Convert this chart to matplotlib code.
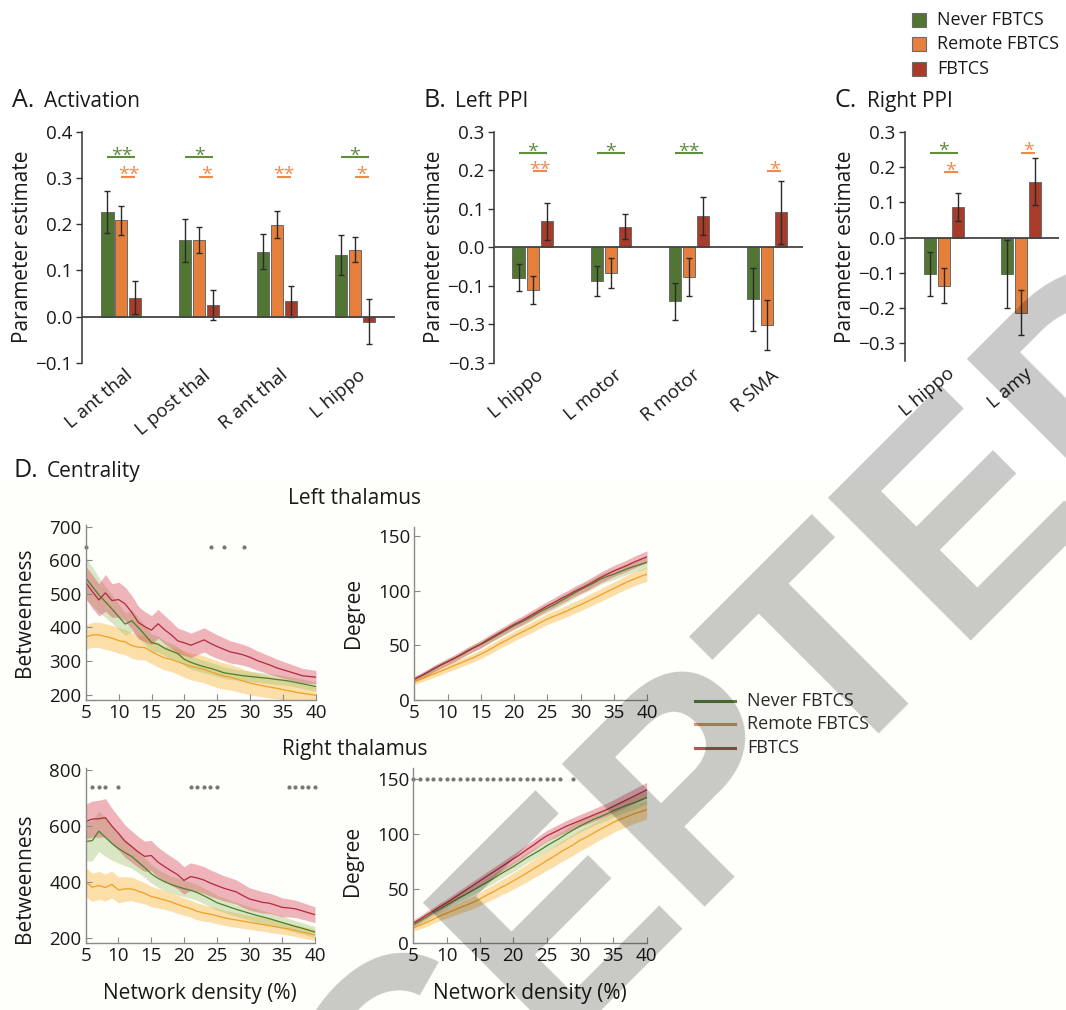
import numpy as np
import matplotlib
matplotlib.use("Agg")
import matplotlib.pyplot as plt
import matplotlib.transforms as mtransforms
from matplotlib.patches import Rectangle
from matplotlib.lines import Line2D

plt.rcParams['font.family'] = ['Open Sans', 'DejaVu Sans']

# ---------------- bar panels (A, B, C) ----------------
groups = ['never', 'remote', 'fbtcs']
group_names = ['Never FBTCS', 'Remote FBTCS', 'FBTCS']

regions_a = ['L ant thal', 'L post thal', 'R ant thal', 'L hippo']
act_never = [0.226, 0.165, 0.140, 0.133]
act_never_err = [0.045, 0.047, 0.038, 0.044]
act_remote = [0.208, 0.166, 0.199, 0.145]
act_remote_err = [0.031, 0.028, 0.030, 0.026]
act_fbtcs = [0.041, 0.025, 0.033, -0.011]
act_fbtcs_err = [0.036, 0.032, 0.033, 0.048]

regions_b = ['L hippo', 'L motor', 'R motor', 'R SMA']
lppi_never = [-0.079, -0.087, -0.141, -0.135]
lppi_never_err = [0.035, 0.039, 0.048, 0.082]
lppi_remote = [-0.112, -0.067, -0.077, -0.202]
lppi_remote_err = [0.036, 0.038, 0.049, 0.064]
lppi_fbtcs = [0.067, 0.053, 0.081, 0.091]
lppi_fbtcs_err = [0.049, 0.032, 0.050, 0.082]

regions_c = ['L hippo', 'L amy']
rppi_never = [-0.104, -0.104]
rppi_never_err = [0.063, 0.097]
rppi_remote = [-0.136, -0.213]
rppi_remote_err = [0.051, 0.064]
rppi_fbtcs = [0.087, 0.158]
rppi_fbtcs_err = [0.040, 0.067]

# significance markers: region index, compared group (vs FBTCS), label, height
sig_a_idx = [0, 0, 1, 1, 2, 3, 3]
sig_a_grp = ['never', 'remote', 'never', 'remote', 'remote', 'never', 'remote']
sig_a_lab = ['**', '**', '*', '*', '**', '*', '*']
sig_a_y = [0.345, 0.303, 0.345, 0.303, 0.303, 0.345, 0.303]

sig_b_idx = [0, 0, 1, 2, 3]
sig_b_grp = ['never', 'remote', 'never', 'never', 'remote']
sig_b_lab = ['*', '**', '*', '**', '*']
sig_b_y = [0.245, 0.197, 0.245, 0.245, 0.197]

sig_c_idx = [0, 0, 1]
sig_c_grp = ['never', 'remote', 'remote']
sig_c_lab = ['*', '*', '*']
sig_c_y = [0.241, 0.186, 0.240]

# ---------------- centrality panels (D) ----------------
density = np.arange(5, 41)

lb_never = [548, 522, 497, 476, 455, 432,
            410, 420, 400, 378, 355, 350,
            338, 330, 322, 305, 296, 289,
            283, 278, 272, 265, 262, 259,
            256, 254, 252, 250, 248, 245,
            243, 240, 236, 232, 228, 224]
lb_never_sem = [62, 58, 52, 46, 42, 38,
                34, 32, 30, 28, 26, 24,
                23, 22, 21, 20, 20, 19,
                19, 18, 18, 17, 17, 16,
                16, 16, 15, 15, 15, 15,
                14, 14, 14, 14, 14, 14]
lb_remote = [371, 378, 378, 373, 368, 361,
             357, 346, 341, 340, 328, 318,
             309, 305, 298, 291, 284, 280,
             275, 268, 261, 255, 252, 246,
             240, 234, 230, 226, 222, 219,
             215, 211, 207, 204, 201, 198]
lb_remote_sem = [36, 37, 38, 38, 38, 38,
                 38, 38, 37, 37, 36, 36,
                 36, 36, 38, 40, 40, 40,
                 40, 40, 40, 39, 38, 37,
                 36, 35, 34, 33, 32, 31,
                 30, 29, 28, 27, 26, 25]
lb_fbtcs = [534, 507, 482, 503, 480, 483,
            470, 445, 415, 402, 392, 411,
            393, 378, 360, 354, 347, 355,
            363, 352, 343, 335, 327, 323,
            318, 311, 302, 295, 288, 280,
            274, 268, 262, 256, 254, 252]
lb_fbtcs_sem = [48, 50, 48, 55, 50, 52,
                50, 50, 48, 45, 43, 43,
                42, 40, 38, 37, 36, 36,
                36, 36, 35, 34, 33, 32,
                31, 30, 29, 28, 27, 26,
                25, 24, 23, 22, 21, 20]
lb_sig = [5, 24, 26, 29]

ld_never = [19, 22, 25, 28.5, 32, 35,
            38, 41, 44.5, 48, 51, 54,
            57.5, 61, 64.5, 68, 71, 74,
            77.5, 81, 84, 87, 90.5, 94,
            97.5, 101, 104, 107, 110.5, 113,
            115, 117.5, 120, 122, 124, 126]
ld_never_sem = [2.4, 2.5, 2.6, 2.7, 2.8, 2.9,
                3.0, 3.0, 3.1, 3.2, 3.3, 3.4,
                3.4, 3.5, 3.6, 3.7, 3.8, 3.9,
                3.9, 4.0, 4.1, 4.2, 4.3, 4.4,
                4.4, 4.5, 4.6, 4.7, 4.8, 4.9,
                4.9, 5.0, 5.1, 5.2, 5.3, 5.4]
ld_remote = [16.5, 19, 21.5, 24, 26.5, 29,
             31.5, 34, 36.5, 39, 42, 45,
             48.5, 52, 55, 58.5, 61.5, 64.5,
             67.5, 71, 74, 76.5, 79, 81.5,
             84.5, 87, 90, 93, 96, 99,
             102, 105, 108, 110.5, 113, 115]
ld_remote_sem = [2.5, 2.7, 2.9, 3.1, 3.3, 3.5,
                 3.6, 3.7, 3.8, 3.9, 4.0, 4.1,
                 4.2, 4.3, 4.4, 4.5, 4.6, 4.7,
                 4.8, 4.9, 5.0, 5.1, 5.2, 5.3,
                 5.4, 5.5, 5.6, 5.7, 5.8, 5.9,
                 6.0, 6.1, 6.2, 6.3, 6.4, 6.5]
ld_fbtcs = [19, 22, 25.5, 29, 32, 35,
            38, 41.5, 45, 48, 51, 55,
            58.5, 62, 65.5, 69, 72, 75.5,
            79, 82.5, 86, 89, 92.5, 95.5,
            99, 102, 105, 108.5, 112, 115,
            118, 120.5, 123, 126, 128.5, 131]
ld_fbtcs_sem = [2.5, 2.6, 2.7, 2.8, 2.9, 3.0,
                3.0, 3.1, 3.2, 3.3, 3.4, 3.5,
                3.5, 3.6, 3.7, 3.8, 3.9, 4.0,
                4.0, 4.1, 4.2, 4.3, 4.4, 4.5,
                4.5, 4.6, 4.7, 4.8, 4.9, 5.0,
                5.0, 5.1, 5.2, 5.3, 5.4, 5.5]

rb_never = [545, 548, 582, 560, 538, 520,
            505, 492, 472, 452, 430, 414,
            402, 392, 384, 377, 371, 363,
            352, 340, 327, 319, 311, 303,
            296, 289, 282, 276, 270, 263,
            256, 249, 242, 236, 229, 222]
rb_never_sem = [70, 72, 72, 68, 60, 52,
                46, 42, 38, 35, 33, 32,
                31, 30, 30, 29, 29, 28,
                28, 27, 27, 26, 26, 25,
                25, 24, 24, 23, 23, 22,
                22, 21, 21, 20, 20, 20]
rb_remote = [400, 382, 388, 381, 392, 372,
             376, 376, 368, 360, 349, 343,
             337, 330, 321, 313, 306, 296,
             290, 286, 280, 274, 269, 265,
             261, 257, 253, 249, 245, 241,
             237, 233, 228, 222, 217, 212]
rb_remote_sem = [52, 50, 50, 48, 48, 46,
                 44, 42, 40, 38, 36, 35,
                 34, 33, 32, 31, 30, 30,
                 29, 28, 28, 27, 27, 26,
                 26, 25, 25, 24, 24, 23,
                 23, 22, 22, 21, 21, 20]
rb_fbtcs = [616, 625, 626, 630, 600, 574,
            546, 527, 508, 492, 495, 472,
            456, 441, 427, 406, 420, 415,
            408, 397, 388, 379, 372, 365,
            352, 340, 334, 328, 325, 318,
            310, 308, 305, 298, 291, 284]
rb_fbtcs_sem = [62, 64, 66, 68, 64, 60,
                58, 56, 55, 54, 54, 53,
                52, 51, 50, 49, 49, 48,
                48, 47, 46, 45, 44, 43,
                42, 40, 39, 38, 36, 35,
                34, 32, 31, 30, 29, 28]
rb_sig = [6, 7, 8, 10, 21, 22, 23, 24, 25, 36, 37, 38, 39, 40]

rd_never = [17, 20.5, 24, 28, 31.5, 35,
            38.5, 42, 45, 48.5, 52, 55.5,
            59, 63, 66.5, 70, 74, 78,
            81.5, 85, 89, 92.5, 96, 100,
            103.5, 107, 110, 113, 115.5, 118,
            121, 123.5, 126, 128, 130.5, 133]
rd_never_sem = [3.0, 3.1, 3.2, 3.3, 3.4, 3.5,
                3.6, 3.7, 3.8, 3.9, 4.0, 4.1,
                4.2, 4.3, 4.4, 4.5, 4.6, 4.7,
                4.8, 4.9, 5.0, 5.1, 5.2, 5.3,
                5.4, 5.5, 5.5, 5.6, 5.6, 5.7,
                5.7, 5.8, 5.8, 5.9, 5.9, 6.0]
rd_remote = [14, 16.5, 19, 22, 25, 27.5,
             30, 32.5, 35, 37.5, 40.5, 44,
             47, 50.5, 53.5, 57, 60.5, 64,
             68, 71.5, 75.5, 79, 83, 86.5,
             90, 94, 97, 100.5, 104, 107,
             110.5, 113, 115.5, 118, 120, 122]
rd_remote_sem = [3.0, 3.3, 3.6, 3.9, 4.2, 4.5,
                 4.8, 5.1, 5.4, 5.7, 6.0, 6.3,
                 6.6, 6.9, 7.2, 7.5, 7.8, 8.1,
                 8.4, 8.7, 9.0, 9.2, 9.4, 9.5,
                 9.6, 9.6, 9.5, 9.4, 9.3, 9.2,
                 9.1, 9.0, 8.9, 8.8, 8.7, 8.6]
rd_fbtcs = [18.5, 22, 26, 29.5, 33.5, 37,
            41, 45, 49, 53, 57, 61,
            65, 69, 73, 77, 81, 85.5,
            89.5, 94, 98, 101, 104, 107,
            109.5, 112, 114.5, 117, 119.5, 122,
            125, 128, 131, 134, 137, 140]
rd_fbtcs_sem = [3.0, 3.1, 3.2, 3.3, 3.4, 3.5,
                3.6, 3.7, 3.8, 3.9, 4.0, 4.1,
                4.2, 4.3, 4.4, 4.5, 4.6, 4.7,
                4.8, 4.9, 5.0, 5.1, 5.2, 5.3,
                5.4, 5.5, 5.6, 5.7, 5.8, 5.9,
                6.0, 6.2, 6.4, 6.6, 6.8, 7.0]
rd_sig = [5, 6, 7, 8, 9, 10, 11, 12, 13, 14, 15, 16,
          17, 18, 19, 20, 21, 22, 23, 24, 25, 26, 27, 29]

# ---------------- style ----------------
bar_colors = {'never': '#517633', 'remote': '#e67f3b', 'fbtcs': '#a83b29'}
sig_colors = {'never': '#5f8c3d', 'remote': '#f08a4c'}
line_colors = {'never': '#4d7d2c', 'remote': '#f0a024', 'fbtcs': '#b02a3c'}
band_colors = {'never': '#a3c473', 'remote': '#f9b030', 'fbtcs': '#d9475a'}
legend_line_colors = {'never': '#5a7f3e', 'remote': '#d8966a', 'fbtcs': '#a85a4a'}
TXT = '#1a1a1a'

W, H = 1066, 1010
fig = plt.figure(figsize=(W / 100, H / 100), dpi=100)
fig.patch.set_facecolor('white')
fig.patches.append(Rectangle((0, 0), 1, 1 - 480 / H, transform=fig.transFigure,
                             facecolor='#fefefb', edgecolor='none', zorder=-10))


def px_axes(left, top, right, bottom):
    return fig.add_axes([left / W, 1 - bottom / H, (right - left) / W, (bottom - top) / H])


def ftext(x, y, s, **kw):
    fig.text(x / W, 1 - y / H, s, **kw)


def bar_panel(ax, regions, data, xlim, ylim, yticks, yticklabels, sig):
    x = np.arange(len(regions))
    offsets = {'never': -0.18, 'remote': 0.0, 'fbtcs': 0.18}
    for g in groups:
        vals, errs = data[g]
        ax.bar(x + offsets[g], vals, 0.155, color=bar_colors[g], edgecolor='#6a6a6a',
               linewidth=0.7, zorder=2)
        ax.errorbar(x + offsets[g], vals, yerr=errs, fmt='none', ecolor='#2a2a2a',
                    elinewidth=1.0, capsize=2.5, capthick=1.0, zorder=3)
    ax.axhline(0, color='#444444', lw=1.3, zorder=4)
    ax.set_xlim(*xlim)
    ax.set_ylim(*ylim)
    ax.set_yticks(yticks)
    ax.set_yticklabels(yticklabels)
    ax.set_xticks([])
    for s in ['top', 'right', 'bottom']:
        ax.spines[s].set_visible(False)
    ax.spines['left'].set_color('#333333')
    ax.spines['left'].set_linewidth(1.1)
    ax.tick_params(axis='y', direction='out', length=4, width=1, color='#333333',
                   labelsize=13.5, labelcolor=TXT, pad=3)
    ax.set_ylabel('Parameter estimate', fontsize=15, color=TXT, labelpad=1.5)
    ax.patch.set_alpha(0)
    trans = mtransforms.blended_transform_factory(ax.transData, ax.transAxes)
    for xi, lab in zip(x, regions):
        ax.text(xi + 0.04, -0.015, lab, transform=trans, rotation=40, ha='right', va='top',
                rotation_mode='anchor', fontsize=13.5, color=TXT)
    idx, grp, lab, yy = sig
    for i, g, l, y in zip(idx, grp, lab, yy):
        x0 = i + offsets[g]
        x1 = i + offsets['fbtcs']
        ax.plot([x0, x1], [y, y], color=sig_colors[g], lw=1.5, solid_capstyle='butt',
                clip_on=False, zorder=5)
        ax.annotate(l, xy=((x0 + x1) / 2, y), xytext=(0, -2.5), textcoords='offset points',
                    ha='center', va='baseline', fontsize=14, color=sig_colors[g])


ax_a = px_axes(82, 131.7, 395, 362.7)
bar_panel(ax_a, regions_a,
          {'never': (act_never, act_never_err), 'remote': (act_remote, act_remote_err),
           'fbtcs': (act_fbtcs, act_fbtcs_err)},
          (-0.508, 3.52), (-0.1, 0.4),
          [-0.1, 0.0, 0.1, 0.2, 0.3, 0.4], ['\u22120.1', '0.0', '0.1', '0.2', '0.3', '0.4'],
          (sig_a_idx, sig_a_grp, sig_a_lab, sig_a_y))

ax_b = px_axes(494.3, 131.7, 803, 362.7)
bar_panel(ax_b, regions_b,
          {'never': (lppi_never, lppi_never_err), 'remote': (lppi_remote, lppi_remote_err),
           'fbtcs': (lppi_fbtcs, lppi_fbtcs_err)},
          (-0.49, 3.46), (-0.3, 0.3),
          [-0.3, -0.2, -0.1, 0.0, 0.1, 0.2, 0.3],
          ['\u22120.3', '\u22120.3', '\u22120.1', '0.0', '0.1', '0.2', '0.3'],
          (sig_b_idx, sig_b_grp, sig_b_lab, sig_b_y))

ax_c = px_axes(905, 131.7, 1059, 361)
bar_panel(ax_c, regions_c,
          {'never': (rppi_never, rppi_never_err), 'remote': (rppi_remote, rppi_remote_err),
           'fbtcs': (rppi_fbtcs, rppi_fbtcs_err)},
          (-0.50, 1.486), (-0.35, 0.3),
          [-0.3, -0.2, -0.1, 0.0, 0.1, 0.2, 0.3],
          ['\u22120.3', '\u22120.2', '\u22120.1', '0.0', '0.1', '0.2', '0.3'],
          (sig_c_idx, sig_c_grp, sig_c_lab, sig_c_y))

# panel titles
ftext(12, 107, 'A.', fontsize=18, color=TXT, va='baseline')
ftext(44, 107, 'Activation', fontsize=15, color=TXT, va='baseline')
ftext(424, 107, 'B.', fontsize=18, color=TXT, va='baseline')
ftext(455, 107, 'Left PPI', fontsize=15, color=TXT, va='baseline')
ftext(834, 107, 'C.', fontsize=18, color=TXT, va='baseline')
ftext(867, 107, 'Right PPI', fontsize=15, color=TXT, va='baseline')

# bar legend
for i, g in enumerate(groups):
    yc = 20 + i * 24.3
    fig.patches.append(Rectangle((912 / W, 1 - (yc + 7) / H), 14 / W, 14 / H,
                                 transform=fig.transFigure, facecolor=bar_colors[g],
                                 edgecolor='#6a6a6a', linewidth=0.8))
    ftext(937, yc, group_names[i], fontsize=13, color=TXT, va='center')


# ---------------- D ----------------
def centrality(ax, data, ylim, yticks, sig, sig_y, ylabel, ylab_pos):
    for g in ['remote', 'never', 'fbtcs']:
        m, s = np.array(data[g][0], float), np.array(data[g][1], float)
        ax.fill_between(density, m - s, m + s, color=band_colors[g], alpha=0.4, lw=0)
    for g in ['remote', 'never', 'fbtcs']:
        ax.plot(density, data[g][0], color=line_colors[g], lw=0.9)
    ax.plot(sig, [sig_y] * len(sig), ls='none', marker='o', ms=2.0, color='#777777',
            clip_on=False)
    ax.set_xlim(5, 40)
    ax.set_ylim(*ylim)
    ax.set_xticks([5, 10, 15, 20, 25, 30, 35, 40])
    ax.set_yticks(yticks)
    for s in ['top', 'right']:
        ax.spines[s].set_visible(False)
    for s in ['left', 'bottom']:
        ax.spines[s].set_color('#8a8a8a')
        ax.spines[s].set_linewidth(1.0)
    ax.tick_params(direction='in', length=4, width=0.8, color='#8a8a8a', labelsize=13.5,
                   labelcolor=TXT, pad=3)
    ax.set_facecolor('none')
    ax.set_ylabel(ylabel, fontsize=15, color=TXT)
    ax.yaxis.set_label_coords(*ylab_pos)


ax_lb = px_axes(85.7, 525, 316, 700)
centrality(ax_lb, {'never': (lb_never, lb_never_sem), 'remote': (lb_remote, lb_remote_sem),
                   'fbtcs': (lb_fbtcs, lb_fbtcs_sem)},
           (184, 705), [200, 300, 400, 500, 600, 700], lb_sig, 640, 'Betweenness', (-0.22, 0.5))

ax_ld = px_axes(414.3, 526.7, 647, 700)
centrality(ax_ld, {'never': (ld_never, ld_never_sem), 'remote': (ld_remote, ld_remote_sem),
                   'fbtcs': (ld_fbtcs, ld_fbtcs_sem)},
           (0, 158.5), [0, 50, 100, 150], [], 0, 'Degree', (-0.215, 0.5))

ax_rb = px_axes(85.7, 768, 315, 943.3)
centrality(ax_rb, {'never': (rb_never, rb_never_sem), 'remote': (rb_remote, rb_remote_sem),
                   'fbtcs': (rb_fbtcs, rb_fbtcs_sem)},
           (182, 807), [200, 400, 600, 800], rb_sig, 740, 'Betweenness', (-0.22, 0.37))

ax_rd = px_axes(413.3, 768.3, 646.6, 943.3)
centrality(ax_rd, {'never': (rd_never, rd_never_sem), 'remote': (rd_remote, rd_remote_sem),
                   'fbtcs': (rd_fbtcs, rd_fbtcs_sem)},
           (0, 159.8), [0, 50, 100, 150], rd_sig, 150, 'Degree', (-0.215, 0.47))

ftext(13, 477, 'D.', fontsize=18, color=TXT, va='baseline')
ftext(47, 477, 'Centrality', fontsize=15, color=TXT, va='baseline')
ftext(355, 504, 'Left thalamus', fontsize=15, color=TXT, va='baseline', ha='center')
ftext(355, 755, 'Right thalamus', fontsize=15, color=TXT, va='baseline', ha='center')
ftext(200, 999, 'Network density (%)', fontsize=15, color=TXT, va='baseline', ha='center')
ftext(530, 999, 'Network density (%)', fontsize=15, color=TXT, va='baseline', ha='center')

# line legend
for i, g in enumerate(groups):
    yc = 700.7 + i * 23.7
    fig.add_artist(Line2D([695 / W, 735 / W], [1 - yc / H, 1 - yc / H],
                          transform=fig.transFigure, color=legend_line_colors[g], lw=2.2))
    ftext(747, yc, group_names[i], fontsize=13, color='#2a2a2a', va='center')

# watermark
fig.text(672 / W, 1 - 932 / H, 'ACCEPTED', fontsize=212, fontweight='bold',
         family=['Liberation Sans', 'DejaVu Sans'], color='black', alpha=0.21,
         rotation=45, rotation_mode='anchor', ha='center', va='baseline', zorder=100)

fig.savefig('out.png', dpi=100)
